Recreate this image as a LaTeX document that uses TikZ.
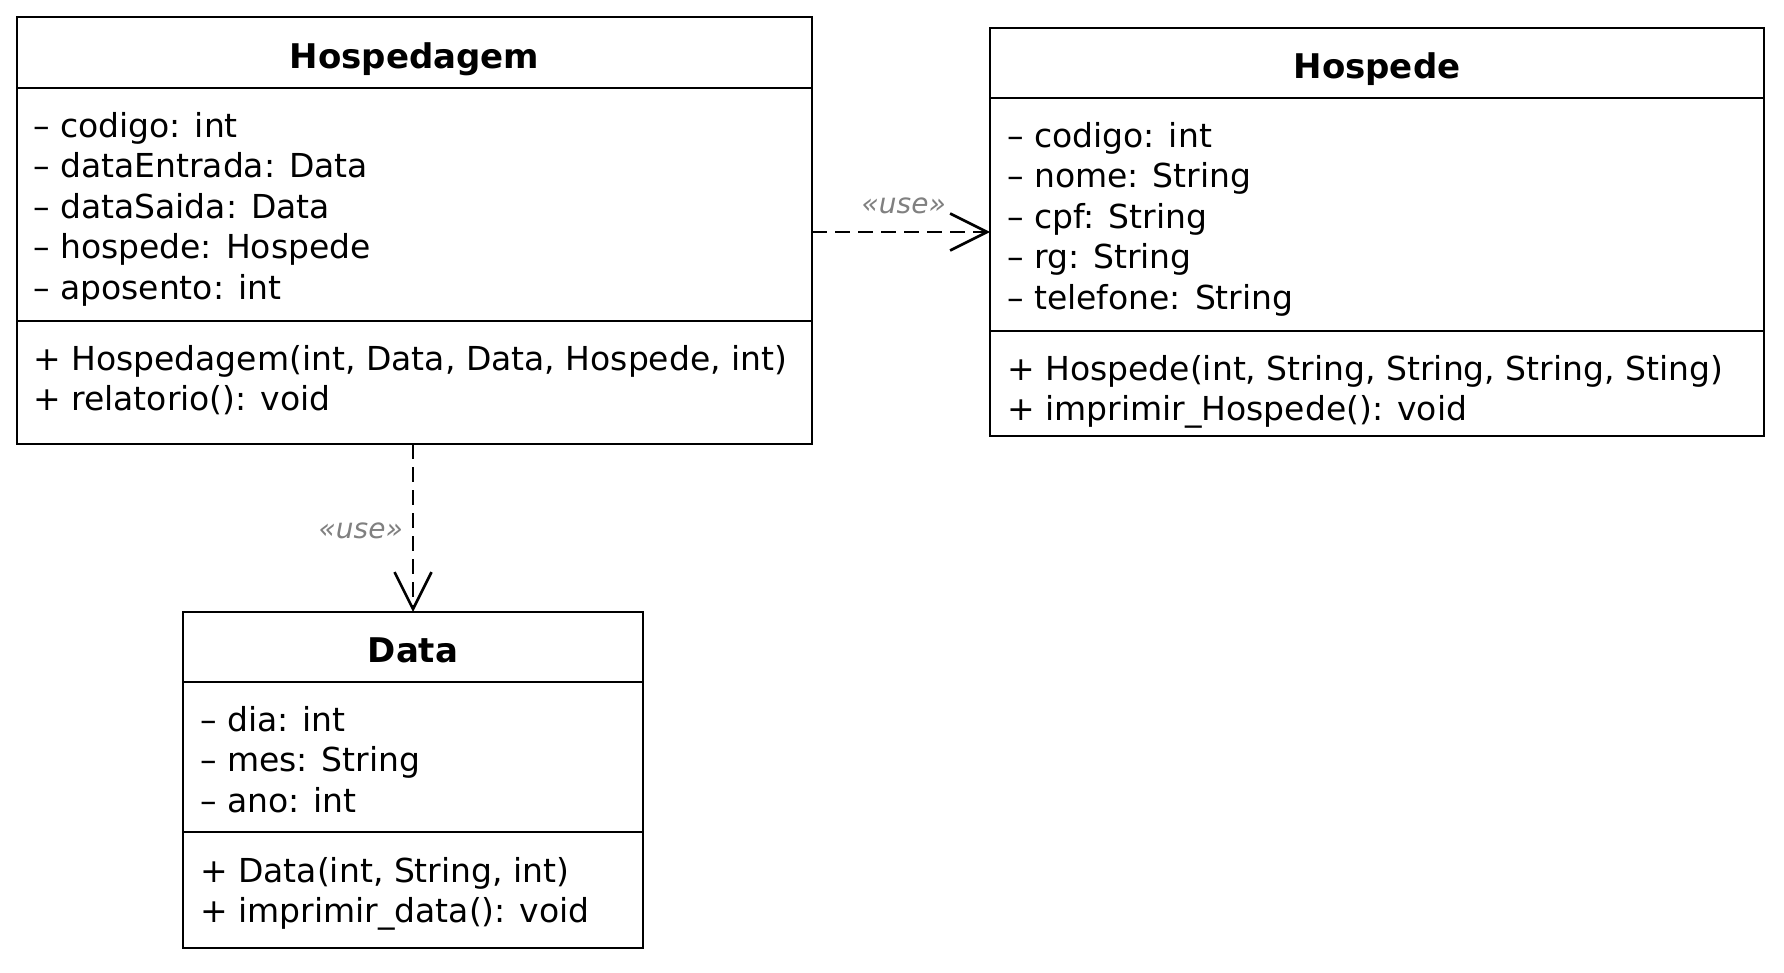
\documentclass[tikz,border=0pt]{standalone}
\usepackage{fontspec}
\setmainfont{DejaVu Sans}
\usetikzlibrary{arrows.meta}
\begin{document}
\begin{tikzpicture}[x=1pt,y=-1pt,
  box/.style={draw, line width=2.8pt, inner sep=0pt, outer sep=0pt, anchor=north west},
  ttl/.style={font=\fontsize{34}{40}\selectfont\bfseries, anchor=base, inner sep=0pt},
  mem/.style={font=\fontsize{33}{40}\selectfont, anchor=base west, inner sep=0pt},
  sepline/.style={line width=2.8pt},
  dep/.style={line width=2.8pt, dash pattern=on 15pt off 8pt,
    -{Straight Barb[length=37pt,width=37pt,line width=2.6pt]}},
  stereo/.style={font=\fontsize{28}{32}\selectfont\itshape, text=black!50, inner sep=0pt, anchor=base east}]
\useasboundingbox (0,0) rectangle (1784,972);

% Hospedagem
\node[box, minimum width=795pt, minimum height=427pt] (hg) at (17,17) {};
\draw[sepline] (hg.west |- 0,88) -- (hg.east |- 0,88);
\draw[sepline] (hg.west |- 0,321) -- (hg.east |- 0,321);
\node[ttl] (hgT) at (hg.north |- 0,68) {Hospedagem};
\node[mem] (hgA1) at (33,137) {– codigo: int};
\node[mem] (hgA2) at (33,177.5) {– dataEntrada: Data};
\node[mem] (hgA3) at (33,218) {– dataSaida: Data};
\node[mem] (hgA4) at (33,258.5) {– hospede: Hospede};
\node[mem] (hgA5) at (33,299) {– aposento: int};
\node[mem] (hgM1) at (33,370) {+ Hospedagem(int, Data, Data, Hospede, int)};
\node[mem] (hgM2) at (33,410.5) {+ relatorio(): void};

% Hospede
\node[box, minimum width=774pt, minimum height=408pt] (hp) at (990,28) {};
\draw[sepline] (hp.west |- 0,98) -- (hp.east |- 0,98);
\draw[sepline] (hp.west |- 0,331) -- (hp.east |- 0,331);
\node[ttl] (hpT) at (hp.north |- 0,78) {Hospede};
\node[mem] (hpA1) at (1007,147) {– codigo: int};
\node[mem] (hpA2) at (1007,187.5) {– nome: String};
\node[mem] (hpA3) at (1007,228) {– cpf: String};
\node[mem] (hpA4) at (1007,268.5) {– rg: String};
\node[mem] (hpA5) at (1007,309) {– telefone: String};
\node[mem] (hpM1) at (1007,380) {+ Hospede(int, String, String, String, Sting)};
\node[mem] (hpM2) at (1007,420) {+ imprimir\_Hospede(): void};

% Data
\node[box, minimum width=460pt, minimum height=336pt] (dt) at (183,612) {};
\draw[sepline] (dt.west |- 0,682) -- (dt.east |- 0,682);
\draw[sepline] (dt.west |- 0,832) -- (dt.east |- 0,832);
\node[ttl] (dtT) at (dt.north |- 0,662) {Data};
\node[mem] (dtA1) at (200,731) {– dia: int};
\node[mem] (dtA2) at (200,771.5) {– mes: String};
\node[mem] (dtA3) at (200,812) {– ano: int};
\node[mem] (dtM1) at (200,882) {+ Data(int, String, int)};
\node[mem] (dtM2) at (200,922) {+ imprimir\_data(): void};

% dependencies
\draw[dep] (hg.east |- hp.west) -- (hp.west);
\draw[dep] (dt.north |- hg.south) -- (dt.north);
\node[stereo] (u1) at (946,213) {«use»};
\node[stereo] (u2) at (403,538) {«use»};
\end{tikzpicture}
\end{document}
